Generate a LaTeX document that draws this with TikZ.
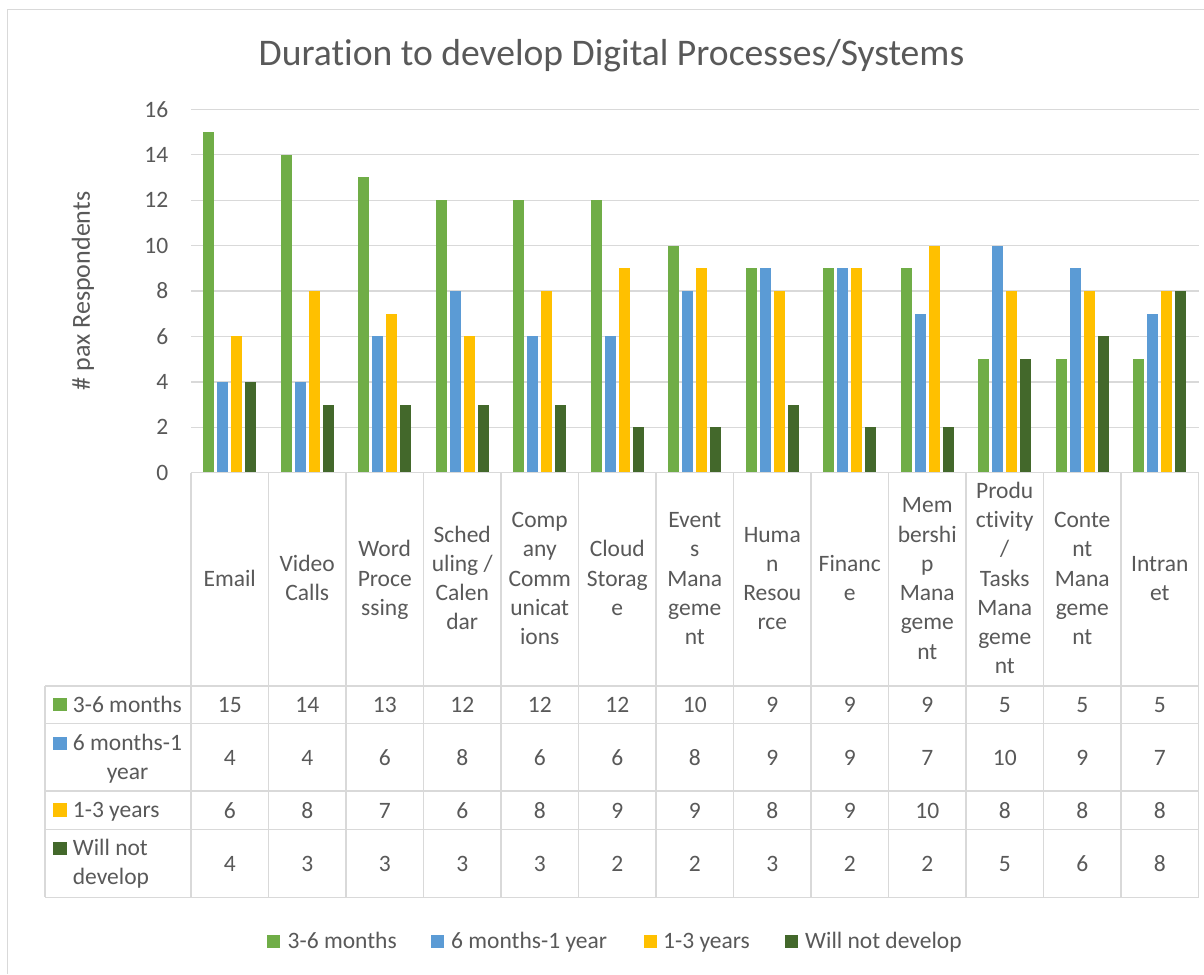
\documentclass[tikz,border=0pt]{standalone}
\usepackage{fontspec}
\setmainfont{Carlito}[Ligatures={NoCommon}]
\definecolor{cA}{HTML}{70AD47}
\definecolor{cB}{HTML}{5B9BD5}
\definecolor{cC}{HTML}{FFC000}
\definecolor{cD}{HTML}{43682B}
\definecolor{txt}{HTML}{595959}
\definecolor{gridc}{HTML}{D9D9D9}
\newcommand\barseries[3]{%
  \foreach \v [count=\i from 0] in {#3} {
    \fill[#2] ({191+77.5*\i+38.75+(#1-1.5)*13.9-5.5},472.7) rectangle ++(11,{-22.71*\v});
  }}
\newcommand\catlab[3]{%
  \foreach \t [count=\j] in {#3} {
    \node[lbl, anchor=base] (cat#1-\j) at ({191+77.5*(#1-0.5)},{586-(#2-1)*14.65+(\j-1)*29.3}) {\t};
  }}
\newcommand\datarow[3]{%
  \foreach \v [count=\i from 0] in {#3} {
    \node[lbl, anchor=base] (#1-\i) at ({191+77.5*\i+38.75},#2) {\v};
  }}
\begin{document}
\begin{tikzpicture}[x=1pt,y=-1pt,
  lbl/.style={text=txt, font=\fontsize{23.5}{29.3}\selectfont, inner sep=0pt},
  gridline/.style={draw=gridc, line width=1.3pt},
  tabline/.style={draw=gridc, line width=1.5pt}]
\useasboundingbox (0,0) rectangle (1204,974);
\fill[white] (0,0) rectangle (1204,974);
% chart frame
\draw[tabline] (7.7,974) -- (7.7,9.5) -- (1204,9.5);
% title
\node[text=txt, font=\fontsize{37.6}{44}\selectfont, inner sep=0pt, anchor=base] (title) at (611.5,66) {Duration to develop Digital Processes/Systems};
% axis title
\node[text=txt, font=\fontsize{26}{30}\selectfont, inner sep=0pt, rotate=90] (ytitle) at (83,291) {\# pax Respondents};
% gridlines
\foreach \k in {1,...,8} \draw[gridline] (191,{472.7-45.42*\k}) -- (1199,{472.7-45.42*\k});
% y labels
\foreach \k/\v in {0/0,1/2,2/4,3/6,4/8,5/10,6/12,7/14,8/16}
  \node[lbl, anchor=east] (y\k) at (168.5,{472.7-45.42*\k}) {\v};
% bars
\barseries{0}{cA}{15,14,13,12,12,12,10,9,9,9,5,5,5}
\barseries{1}{cB}{4,4,6,8,6,6,8,9,9,7,10,9,7}
\barseries{2}{cC}{6,8,7,6,8,9,9,8,9,10,8,8,8}
\barseries{3}{cD}{4,3,3,3,3,2,2,3,2,2,5,6,8}
% table lines
\draw[tabline] (191,472.7) -- (1199,472.7);
\foreach \yy in {686,723.7,791,829.3,897.3} \draw[tabline] (45,\yy) -- (1199,\yy);
\foreach \i in {0,...,13} \draw[tabline] ({191+77.5*\i},472.7) -- ({191+77.5*\i},897.3);
\draw[tabline] (45,686) -- (45,897.3);
% category labels
\catlab{1}{1}{Email}
\catlab{2}{2}{Video,Calls}
\catlab{3}{3}{Word,Proce,ssing}
\catlab{4}{4}{Sched,{uling /},Calen,dar}
\catlab{5}{5}{Comp,any,Comm,unicat,ions}
\catlab{6}{3}{Cloud,Storag,e}
\catlab{7}{5}{Event,s,Mana,geme,nt}
\catlab{8}{4}{Huma,n,Resou,rce}
\catlab{9}{2}{Financ,e}
\catlab{10}{6}{Mem,bershi,p,Mana,geme,nt}
\catlab{11}{7}{Produ,ctivity,{/},Tasks,Mana,geme,nt}
\catlab{12}{5}{Conte,nt,Mana,geme,nt}
\catlab{13}{2}{Intran,et}
% row headers
\fill[cA] (53.3,697.5) rectangle ++(13.5,13.5);
\node[lbl, anchor=base west] (h1) at (72.7,712) {3-6 months};
\fill[cB] (53.3,736.5) rectangle ++(13.5,13.5);
\node[lbl, anchor=base west] (h2a) at (72.7,750.5) {6 months-1};
\node[lbl, anchor=base] (h2b) at (127.5,779.5) {year};
\fill[cC] (53.3,803) rectangle ++(13.5,13.5);
\node[lbl, anchor=base west] (h3) at (72.7,817) {1-3 years};
\fill[cD] (53.3,841.5) rectangle ++(13.5,13.5);
\node[lbl, anchor=base west] (h4a) at (72.7,855.5) {Will not};
\node[lbl, anchor=base west] (h4b) at (72.7,884.5) {develop};
% data rows
\datarow{ra}{712.5}{15,14,13,12,12,12,10,9,9,9,5,5,5}
\datarow{rb}{765}{4,4,6,8,6,6,8,9,9,7,10,9,7}
\datarow{rc}{818}{6,8,7,6,8,9,9,8,9,10,8,8,8}
\datarow{rd}{871.5}{4,3,3,3,3,2,2,3,2,2,5,6,8}
% legend
\fill[cA] (267.3,934.5) rectangle ++(13,13);
\node[lbl, anchor=base west] (l1) at (287.5,948) {3-6 months};
\fill[cB] (430.8,934.5) rectangle ++(13,13);
\node[lbl, anchor=base west] (l2) at (451,948) {6 months-1 year};
\fill[cC] (644,934.5) rectangle ++(13,13);
\node[lbl, anchor=base west] (l3) at (663,948) {1-3 years};
\fill[cD] (784.6,934.5) rectangle ++(13,13);
\node[lbl, anchor=base west] (l4) at (805,948) {Will not develop};
\end{tikzpicture}
\end{document}
